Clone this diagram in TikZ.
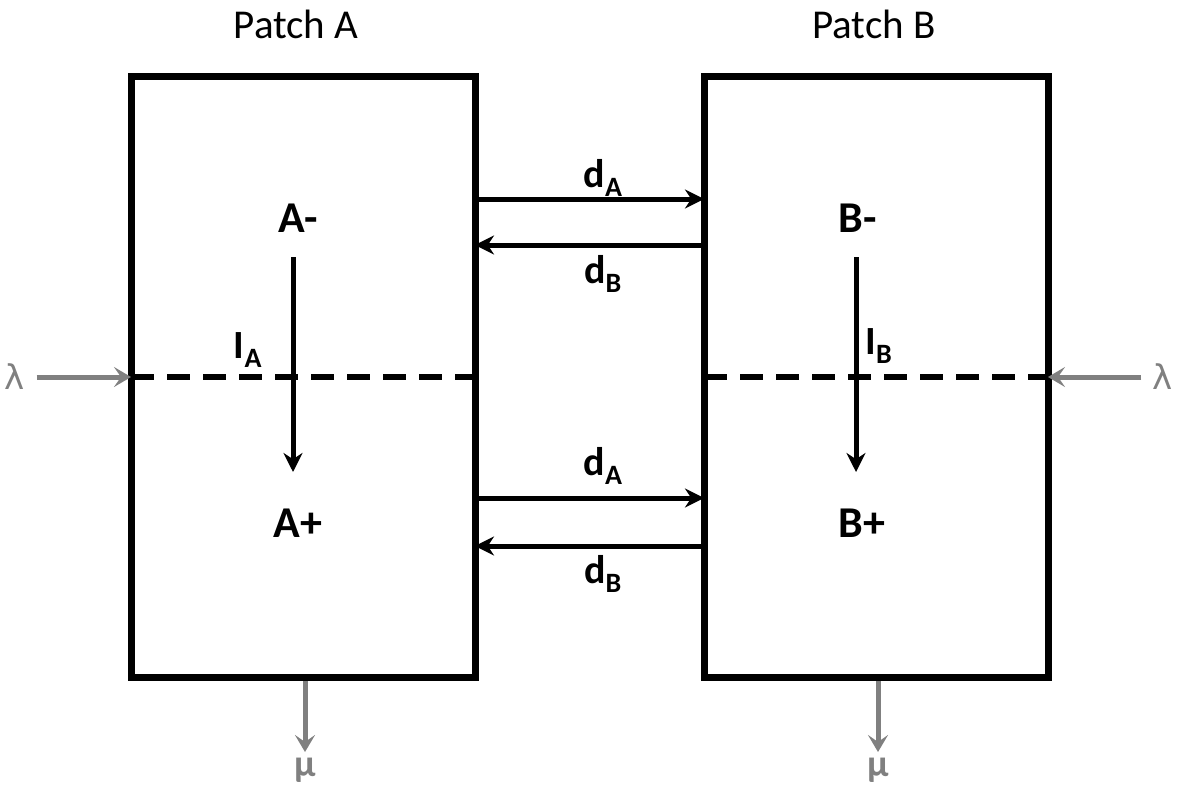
\documentclass[tikz,border=0pt]{standalone}
\usepackage{fontspec}
\setmainfont{Carlito}
\newfontfamily\symfont{DejaVu Sans}
\usetikzlibrary{arrows.meta}
\definecolor{gr}{RGB}{128,128,128}
\tikzset{
  patch/.style={draw=black,line width=7pt},
  sep/.style={line width=6pt,dash pattern=on 23pt off 13pt},
  flow/.style={line width=5pt,-{Stealth[length=19pt,width=19pt]}},
  ext/.style={gr,line width=5pt,-{Stealth[length=17pt,width=20pt,inset=7pt]}},
  big/.style={font=\fontsize{44}{46}\selectfont\bfseries},
  lab/.style={font=\fontsize{40}{42}\selectfont\bfseries},
  title/.style={font=\fontsize{41}{44}\selectfont},
  gl/.style={text=gr,font=\fontsize{34}{36}\selectfont}
}
\begin{document}
\begin{tikzpicture}[x=1pt,y=-1pt]
\useasboundingbox (0,0) rectangle (1182,792);
% boxes
\draw[patch] (131,76) rectangle (475,677);
\draw[patch] (704,76) rectangle (1048,677);
\coordinate (AL) at (131,377); \coordinate (AR) at (475,377);
\coordinate (BL) at (704,377); \coordinate (BR) at (1048,377);
\draw[sep] (AL) -- (AR);
\draw[sep] (BL) -- (BR);
% titles
\node[title] (pa) at (296,24) {Patch A};
\node[title] (pb) at (874,24) {Patch B};
% compartments
\node[big] (am) at (298,218) {A-};
\node[big] (ap) at (298,523) {A+};
\node[big] (bm) at (858,218) {B-};
\node[big] (bp) at (862,523) {B+};
\draw[flow] (293,257) -- (293,472);
\draw[flow] (856,257) -- (856,472);
\node[lab] (ia) at (248,350) {I\textsubscript{A}};
\node[lab] (ib) at (879,346) {I\textsubscript{B}};
% migration arrows
\coordinate (t1l) at (478,199); \coordinate (t1r) at (704,199);
\coordinate (t2l) at (475,245); \coordinate (t2r) at (701,245);
\coordinate (b1l) at (478,498); \coordinate (b1r) at (704,498);
\coordinate (b2l) at (475,546); \coordinate (b2r) at (701,546);
\draw[flow] (t1l) -- (t1r);
\draw[flow] (t2r) -- (t2l);
\draw[flow] (b1l) -- (b1r);
\draw[flow] (b2r) -- (b2l);
\node[lab] (d1) at (603,178) {d\textsubscript{A}};
\node[lab] (d2) at (603,274) {d\textsubscript{B}};
\node[lab] (d3) at (603,466) {d\textsubscript{A}};
\node[lab] (d4) at (603,574) {d\textsubscript{B}};
% external flows
\node[gl] (l1) at (15,377) {\symfont λ};
\node[gl] (l2) at (1163,377) {\symfont λ};
\draw[ext] (l1.east) ++(8,0) coordinate (l1s) -- (AL);
\draw[ext] (l2.west) ++(-8,0) coordinate (l2s) -- (BR);
\coordinate (mA) at (305,681); \coordinate (mB) at (878,681);
\node[gl,font=\fontsize{38}{40}\selectfont\bfseries] (m1) at (305,770) {μ};
\node[gl,font=\fontsize{38}{40}\selectfont\bfseries] (m2) at (878,770) {μ};
\draw[ext] (mA) -- (305,752);
\draw[ext] (mB) -- (878,752);
\end{tikzpicture}
\end{document}
